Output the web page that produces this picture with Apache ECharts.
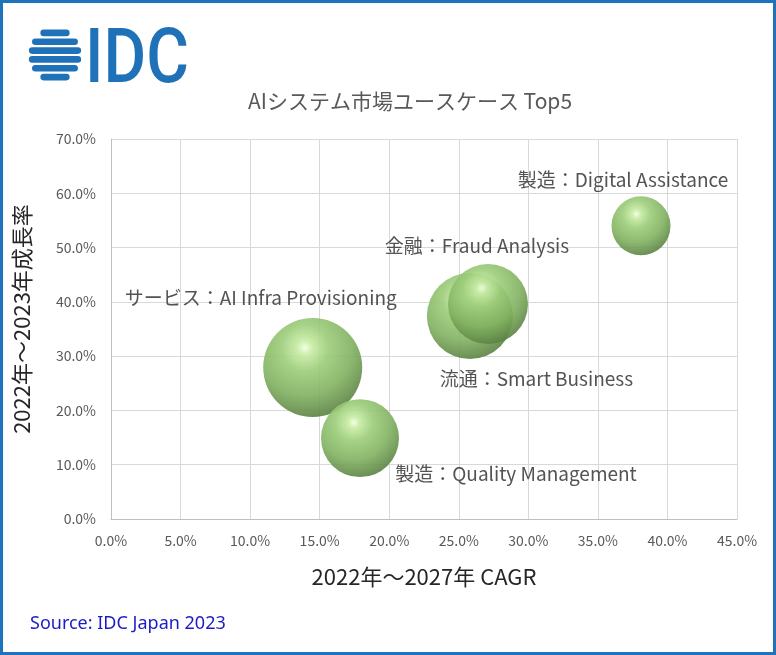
<!DOCTYPE html>
<html><head><meta charset="utf-8">
<script src="https://cdn.jsdelivr.net/npm/echarts@6/dist/echarts.min.js"></script>
<style>html,body{margin:0;padding:0;background:#fff}#c{width:776px;height:655px}</style>
</head><body><div id="c"></div>
<script>
// ---- data ----
const categories = ['サービス：AI Infra Provisioning', '流通：Smart Business', '金融：Fraud Analysis', '製造：Quality Management', '製造：Digital Assistance'];
const cagr2022_2027 = [14.5, 25.8, 27.1, 17.9, 38.1];
const growth2022_2023 = [27.9, 37.4, 39.6, 14.9, 54.0];
const bubbleSize = [2450, 1850, 1600, 1520, 870];
const xTicks = [0, 5, 10, 15, 20, 25, 30, 35, 40, 45];
const yTicks = [0, 10, 20, 30, 40, 50, 60, 70];

// ---- style (label placement relative to bubble centre) ----
const labelOffsets = [[-52, -69.5], [66.5, 63], [-11, -58.5], [156, 36], [-18, -46.5]];

const JP = '"Noto Sans CJK JP", "Noto Sans", sans-serif';
const fmt = v => v.toFixed(1) + '%';

const bubbleColor = {
  type: 'radial', x: 0.42, y: 0.3, r: 0.78,
  colorStops: [
    {offset: 0, color: '#f0ffe0'},
    {offset: 0.1, color: '#c6eba2'},
    {offset: 0.3, color: '#9ccd7a'},
    {offset: 0.62, color: '#80b05f'},
    {offset: 0.85, color: '#628b48'},
    {offset: 0.94, color: '#567c40'},
    {offset: 1, color: '#7aa85d'}
  ]
};

const data = categories.map((name, i) => ({
  name,
  value: [cagr2022_2027[i], growth2022_2023[i], bubbleSize[i]]
}));

// logo globe stripes
const logoColor = '#1f72b8';
const globe = [];
(function () {
  const cx = 55, cy = 55, r = 26.5, n = 6, top = cy - r;
  const h = (2 * r) / n;
  for (let k = 0; k < n; k++) {
    const y0 = top + k * h + 1.1, y1 = top + (k + 1) * h - 1.1;
    const ym = (y0 + y1) / 2 - cy;
    const half = Math.sqrt(Math.max(0, r * r - ym * ym));
    globe.push({
      type: 'rect', silent: true,
      shape: {x: cx - half, y: y0, width: 2 * half, height: y1 - y0, r: (y1 - y0) / 2},
      style: {fill: logoColor}
    });
  }
})();

const chart = echarts.init(document.getElementById('c'));
chart.setOption({
  animation: false,
  backgroundColor: '#fff',
  title: {
    text: 'AIシステム市場ユースケース Top5',
    left: 243, top: 86,
    textStyle: {fontFamily: JP, fontSize: 21, fontWeight: 'normal', color: '#595959'}
  },
  grid: {left: 111, right: 39, top: 139, bottom: 136, containLabel: false},
  xAxis: {
    type: 'value', min: xTicks[0], max: xTicks[xTicks.length - 1], interval: 5,
    name: '2022年～2027年 CAGR', nameLocation: 'middle', nameGap: 47,
    nameTextStyle: {fontFamily: JP, fontSize: 22, color: '#262626'},
    axisLine: {show: true, lineStyle: {color: '#bfbfbf'}},
    axisTick: {show: false},
    axisLabel: {formatter: fmt, fontFamily: JP, fontSize: 14, color: '#595959', margin: 15},
    splitLine: {show: true, lineStyle: {color: '#d9d9d9'}}
  },
  yAxis: {
    type: 'value', min: yTicks[0], max: yTicks[yTicks.length - 1], interval: 10,
    name: '2022年～2023年成長率', nameLocation: 'middle', nameGap: 78,
    nameTextStyle: {fontFamily: JP, fontSize: 22, color: '#262626', padding: [0, 0, 0, 20]},
    axisLine: {show: true, lineStyle: {color: '#bfbfbf'}},
    axisTick: {show: false},
    axisLabel: {formatter: fmt, fontFamily: JP, fontSize: 14, color: '#595959', margin: 15},
    splitLine: {show: true, lineStyle: {color: '#d9d9d9'}}
  },
  series: [{
    type: 'scatter',
    data,
    symbolSize: v => 2 * Math.sqrt(v[2]),
    itemStyle: {color: bubbleColor, opacity: 0.9},
    label: {
      show: true, position: 'inside', formatter: p => p.name,
      fontFamily: JP, fontSize: 19, color: '#404040'
    },
    labelLayout: p => ({dx: labelOffsets[p.dataIndex][0], dy: labelOffsets[p.dataIndex][1], hideOverlap: false}),
    emphasis: {disabled: true}
  }],
  graphic: [
    {type: 'rect', silent: true, z: 100,
     shape: {x: 1.5, y: 1.5, width: 773, height: 652},
     style: {fill: 'none', stroke: '#1f72bc', lineWidth: 3}},
    {type: 'group', silent: true, children: globe},
    {type: 'text', silent: true, x: 85, y: 25, scaleX: 0.86,
     style: {text: 'IDC', fill: logoColor, font: '500 76px Roboto, sans-serif'}},
    {type: 'text', silent: true, left: 30, top: 615,
     style: {text: 'Source: IDC Japan 2023', fill: '#1c1cc4', font: '18px "Noto Sans", sans-serif'}}
  ]
});
</script></body></html>
